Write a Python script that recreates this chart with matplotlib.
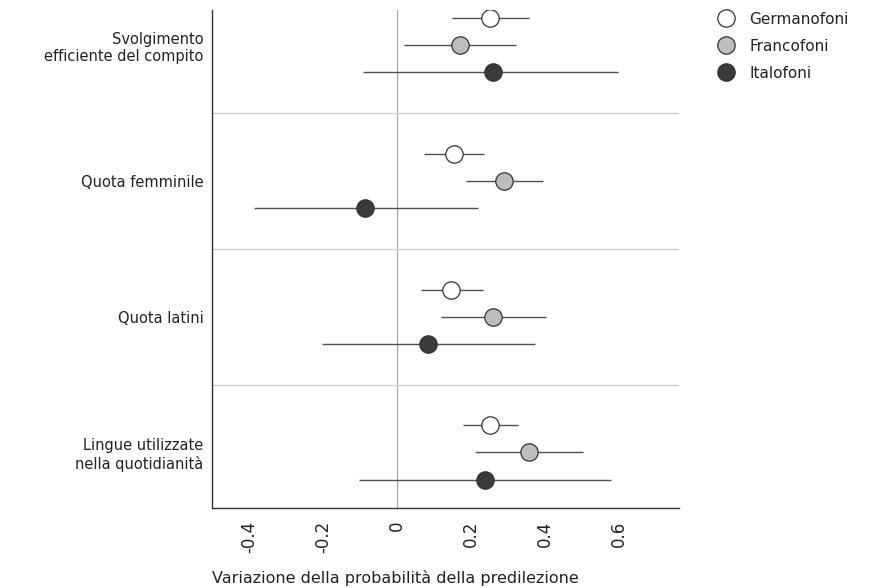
import numpy as np
import matplotlib
matplotlib.use("Agg")
from matplotlib import pyplot as plt

plt.rcParams['font.family'] = ['DejaVu Sans']

# categories, top to bottom
categorie = ["Svolgimento\nefficiente del compito", "Quota femminile",
             "Quota latini", "Lingue utilizzate\nnella quotidianità"]
gruppi = ["Germanofoni", "Francofoni", "Italofoni"]

# point estimates and confidence intervals per group
germ = [0.251, 0.154, 0.146, 0.251]
germ_lo = [0.149, 0.073, 0.065, 0.178]
germ_hi = [0.357, 0.235, 0.232, 0.327]

franc = [0.170, 0.289, 0.259, 0.357]
franc_lo = [0.019, 0.186, 0.119, 0.211]
franc_hi = [0.322, 0.395, 0.403, 0.503]

ital = [0.259, -0.086, 0.084, 0.238]
ital_lo = [-0.092, -0.386, -0.203, -0.103]
ital_hi = [0.597, 0.219, 0.373, 0.578]

xticks = [-0.4, -0.2, 0, 0.2, 0.4, 0.6]
xticklabels = ["-0.4", "-0.2", "0", "0.2", "0.4", "0.6"]

colori = ["white", "#bdbdc0", "#3b3b3b"]
serie = [(germ, germ_lo, germ_hi), (franc, franc_lo, franc_hi), (ital, ital_lo, ital_hi)]
offset = [-0.2, 0.0, 0.2]

fig = plt.figure(figsize=(8.72, 5.88), dpi=100)
ax = fig.add_axes([212/872, 1-508/588, (679-212)/872, (508-10)/588])

ax.axvline(0, color="#a8a8a8", lw=0.9, zorder=1)
for b in [0.5, 1.5, 2.5]:
    ax.axhline(b, color="#cfcfcf", lw=1.0, zorder=1)

pos = np.arange(len(categorie))
for (val, lo, hi), col, off, nome in zip(serie, colori, offset, gruppi):
    y = pos + off
    ax.hlines(y, lo, hi, color="#505050", lw=1.0, zorder=2)
    ax.plot(val, y, "o", ms=12.5, mfc=col, mec="#333333", mew=0.9, zorder=3,
            linestyle="none", label=nome)

ax.set_xlim(-0.5, 0.762)
ax.set_ylim(3.41, -0.26)
ax.set_yticks(pos)
ax.set_yticklabels(categorie, fontsize=10.5, color="#222222", ha="right",
                   multialignment="right")
ax.set_xticks(xticks)
ax.set_xticklabels(xticklabels, rotation=90, fontsize=12, color="#222222")
ax.tick_params(length=0, pad=9)
ax.tick_params(axis="y", pad=6)

# x label sits left-aligned under the axis
fig.text(212/872, 1-578/588, "Variazione della probabilità della predilezione",
         fontsize=11.5, color="#222222", ha="left", va="center")

for s in ["top", "right"]:
    ax.spines[s].set_visible(False)
for s in ["left", "bottom"]:
    ax.spines[s].set_color("#333333")
    ax.spines[s].set_linewidth(1.0)

leg = ax.legend(loc="upper left", bbox_to_anchor=(1.052, 1.024), frameon=False,
                fontsize=11, handletextpad=0.9, labelspacing=0.78,
                handlelength=1.2)
for t in leg.get_texts():
    t.set_color("#222222")

fig.savefig("out.png", dpi=100)
